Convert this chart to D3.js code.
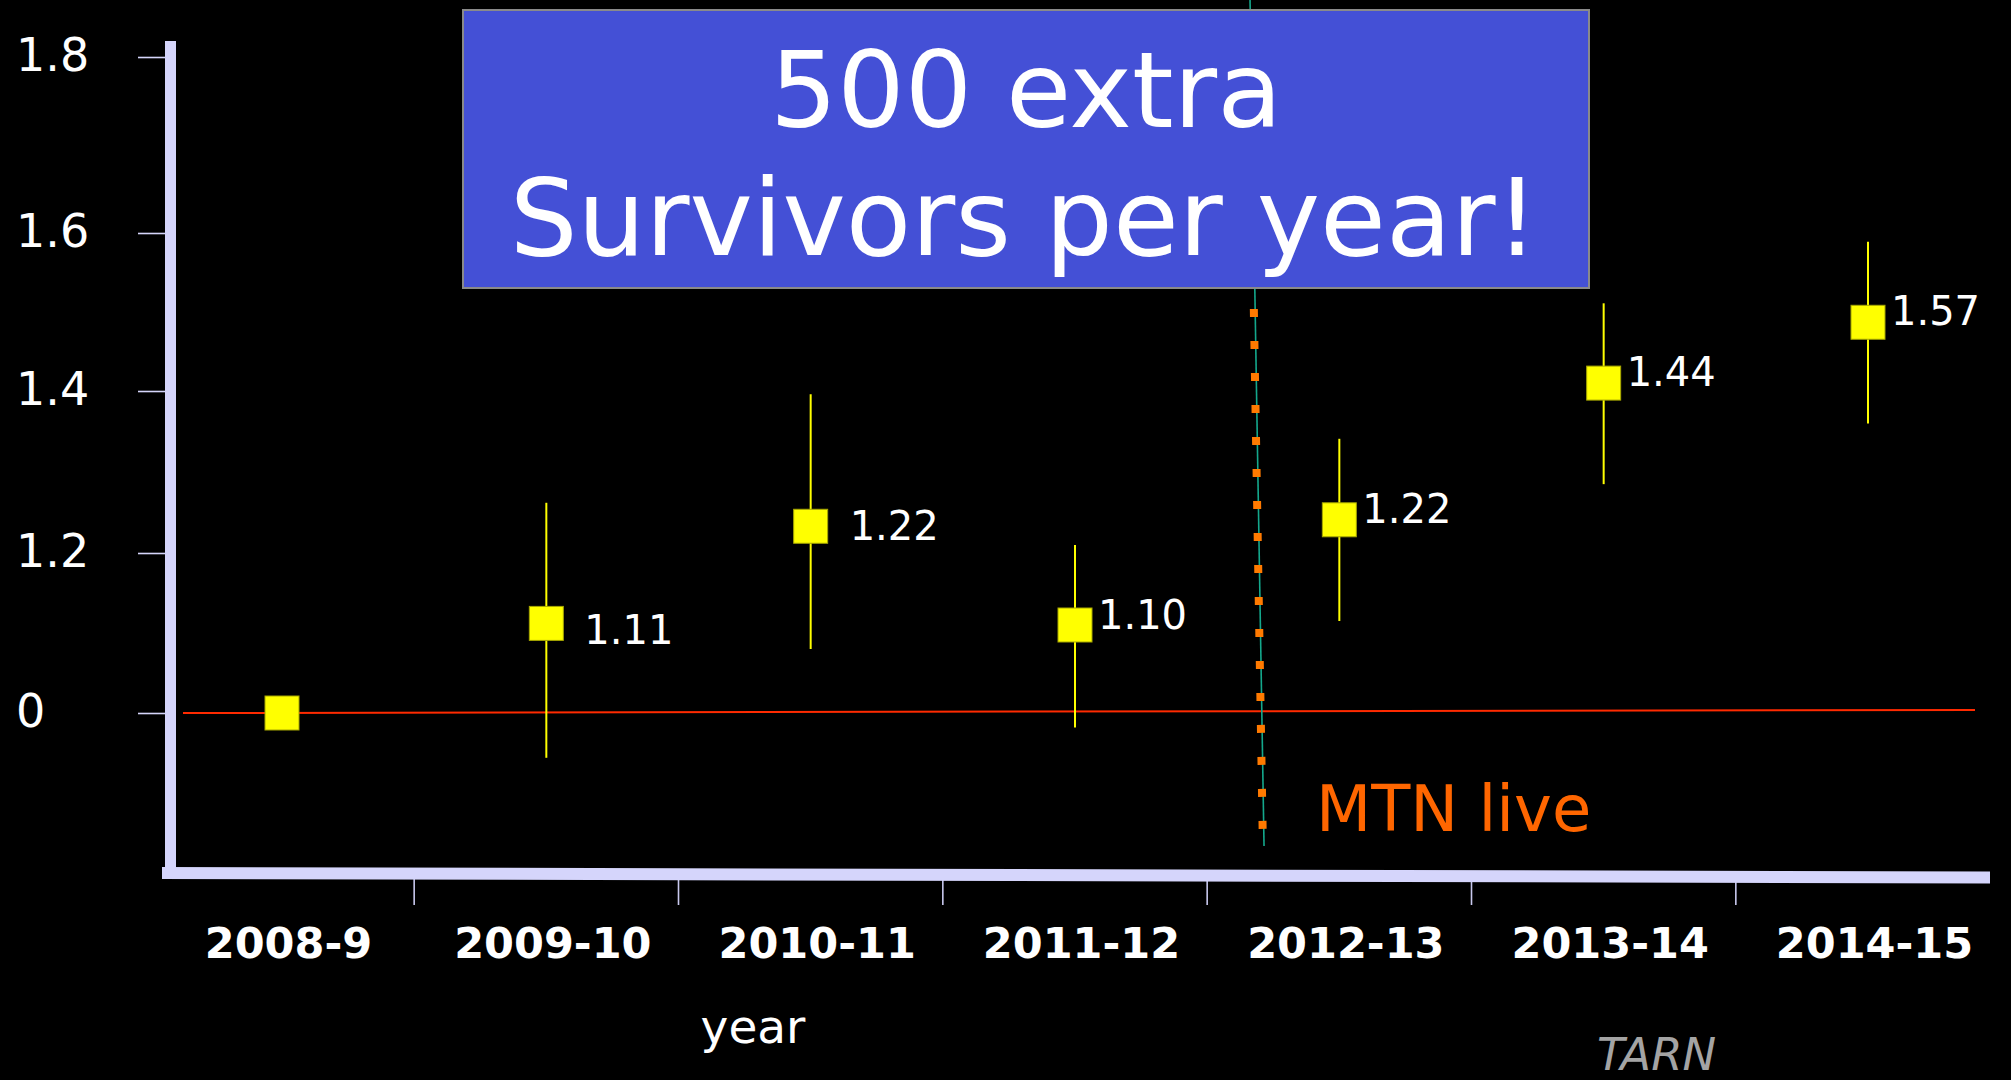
<!DOCTYPE html>
<html>
<head>
<meta charset="utf-8">
<script src="https://cdn.jsdelivr.net/npm/d3@7"></script>
<style>
  html, body { margin: 0; padding: 0; background: #000; }
  svg { display: block; font-family: "DejaVu Sans", Verdana, sans-serif; }
</style>
</head>
<body>
<div id="chart"></div>
<script>
// values (the y axis is a relative ratio, 1.0 is labelled "0")
const years = ["2008-9", "2009-10", "2010-11", "2011-12", "2012-13", "2013-14", "2014-15"];
const ratio = [1.0, 1.112, 1.233, 1.11, 1.241, 1.41, 1.487];
const ciLow = [null, 0.944, 1.08, 0.982, 1.115, 1.285, 1.36];
const ciHigh = [null, 1.262, 1.396, 1.21, 1.341, 1.511, 1.589];
const pointLabels = ["", "1.11", "1.22", "1.10", "1.22", "1.44", "1.57"];
const yTicks = [1.0, 1.2, 1.4, 1.6, 1.8];
const yTickLabels = ["0", "1.2", "1.4", "1.6", "1.8"];

// label nudges (layout only) for the two labels that sit further from their marker
const labelShift = [[0, 0], [15, 18], [16, 11], [0, 1], [0, 0], [0, 0], [0, 0]];

const width = 2011, height = 1080;
const axisColor = "#d5d5fb";

const svg = d3.select("#chart")
  .append("svg")
  .attr("width", width)
  .attr("height", height);

const x = d3.scalePoint()
  .domain(years)
  .range([282, 1868]);

const y = d3.scaleLinear()
  .domain(yTicks)
  .range([713, 553, 391, 233, 57]);

const step = x.step();

// y axis ticks + labels
const yAxis = d3.axisLeft(y)
  .tickValues(yTicks)
  .tickFormat((d, i) => yTickLabels[i])
  .tickSize(27);

const yG = svg.append("g")
  .attr("transform", "translate(165,0)")
  .call(yAxis);
yG.select(".domain").remove();
yG.selectAll(".tick line")
  .attr("stroke", axisColor)
  .attr("stroke-width", 1.6);
yG.selectAll(".tick text")
  .attr("x", -149)
  .attr("dy", "0.3em")
  .style("text-anchor", "start")
  .style("font-family", "'DejaVu Sans', Verdana, sans-serif")
  .style("font-size", "46px")
  .attr("fill", "#fff");

// x axis labels under each year
const xAxis = d3.axisBottom(x).tickSize(0).tickPadding(0);
const xG = svg.append("g")
  .attr("transform", "translate(0,958)")
  .call(xAxis);
xG.select(".domain").remove();
xG.selectAll(".tick text")
  .attr("x", 6)
  .attr("dy", 0)
  .style("font-family", "'DejaVu Sans', Verdana, sans-serif")
  .style("font-size", "43px")
  .style("font-weight", "bold")
  .attr("fill", "#fff");

// separators between the years
svg.selectAll(".xsep")
  .data(years.slice(1))
  .enter()
  .append("line")
  .attr("class", "xsep")
  .attr("x1", d => x(d) - step / 2)
  .attr("x2", d => x(d) - step / 2)
  .attr("y1", 879)
  .attr("y2", 905)
  .attr("stroke", "#c8c8ee")
  .attr("stroke-width", 1.6);

// heavy axis bars
svg.append("line")
  .attr("x1", 170.5).attr("x2", 170.5)
  .attr("y1", 41).attr("y2", 879)
  .attr("stroke", axisColor)
  .attr("stroke-width", 11);
svg.append("line")
  .attr("x1", 162).attr("x2", 1990)
  .attr("y1", 873).attr("y2", 877.5)
  .attr("stroke", axisColor)
  .attr("stroke-width", 12);

// reference line at ratio 1
svg.append("line")
  .attr("x1", 183).attr("x2", 1975)
  .attr("y1", y(1.0)).attr("y2", y(1.0) - 3)
  .attr("stroke", "#ff2a00")
  .attr("stroke-width", 2);

// MTN live marker line
const mtnX = x("2012-13") - 0.3 * step;
svg.append("line")
  .attr("x1", mtnX - 10).attr("x2", mtnX + 4)
  .attr("y1", 0).attr("y2", 846)
  .attr("stroke", "#14a88c")
  .attr("stroke-width", 1.6);
svg.append("line")
  .attr("x1", mtnX - 6.2).attr("x2", mtnX + 2.6)
  .attr("y1", 309).attr("y2", 829)
  .attr("stroke", "#ff7a00")
  .attr("stroke-width", 8)
  .attr("stroke-dasharray", "8 24");

svg.append("text")
  .attr("x", 1316)
  .attr("y", 831)
  .attr("fill", "#ff6600")
  .style("font-size", "64px")
  .text("MTN live");

// error bars
const points = years.map((yr, i) => ({
  year: yr, value: ratio[i], lo: ciLow[i], hi: ciHigh[i], label: pointLabels[i], shift: labelShift[i]
}));

svg.selectAll(".err")
  .data(points.filter(d => d.lo !== null))
  .enter()
  .append("line")
  .attr("class", "err")
  .attr("x1", d => x(d.year))
  .attr("x2", d => x(d.year))
  .attr("y1", d => y(d.hi))
  .attr("y2", d => y(d.lo))
  .attr("stroke", "#ffff00")
  .attr("stroke-width", 2);

svg.selectAll(".pt")
  .data(points)
  .enter()
  .append("rect")
  .attr("class", "pt")
  .attr("x", d => x(d.year) - 17)
  .attr("y", d => y(d.value) - 17)
  .attr("width", 34)
  .attr("height", 34)
  .attr("fill", "#ffff00")
  .attr("stroke", "#a6a600")
  .attr("stroke-width", 1);

svg.selectAll(".ptlabel")
  .data(points.filter(d => d.label))
  .enter()
  .append("text")
  .attr("class", "ptlabel")
  .attr("x", d => x(d.year) + 23 + d.shift[0])
  .attr("y", d => y(d.value) + 3 + d.shift[1])
  .attr("fill", "#fff")
  .style("font-size", "40px")
  .text(d => d.label);

// headline box
svg.append("rect")
  .attr("x", 463).attr("y", 10)
  .attr("width", 1126).attr("height", 278)
  .attr("fill", "#4450d6")
  .attr("stroke", "#8a8a8a")
  .attr("stroke-width", 2);
svg.append("text")
  .attr("x", 1026).attr("y", 127)
  .attr("text-anchor", "middle")
  .attr("fill", "#fff")
  .style("font-size", "106px")
  .text("500 extra");
svg.append("text")
  .attr("x", 1024).attr("y", 255)
  .attr("text-anchor", "middle")
  .attr("fill", "#fff")
  .style("font-size", "107px")
  .text("Survivors per year!");

// axis title and source
svg.append("text")
  .attr("x", 753).attr("y", 1043)
  .attr("text-anchor", "middle")
  .attr("fill", "#fff")
  .style("font-size", "47px")
  .text("year");

svg.append("text")
  .attr("x", 1597).attr("y", 1070)
  .attr("fill", "#a4a4a4")
  .style("font-size", "45px")
  .style("font-style", "italic")
  .text("TARN");
</script>
</body>
</html>
